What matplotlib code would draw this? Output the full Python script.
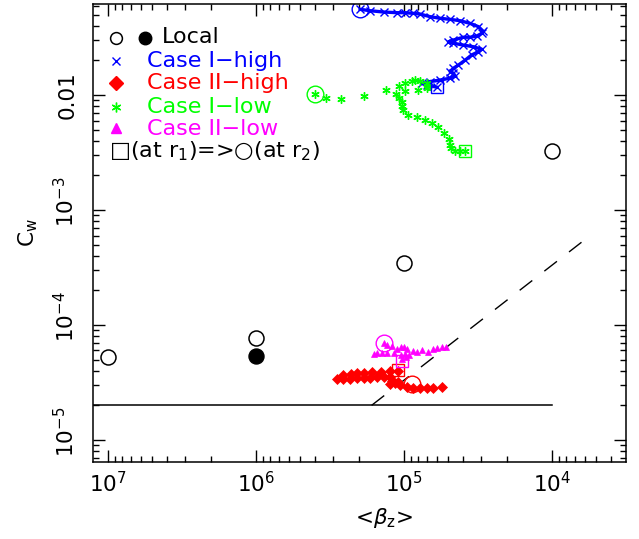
import numpy as np
import matplotlib.pyplot as plt
import matplotlib.transforms as mtransforms
from matplotlib.ticker import FixedLocator, LogLocator, NullFormatter

# ------------------------------- DATA ----------------------------------------
# Local estimates
local_beta = [1e7, 1e6, 1e5, 1e4]
local_cw = [5.27e-5, 7.66e-5, 3.46e-4, 3.28e-3]
local_beta_filled = [1e6]
local_cw_filled = [5.37e-5]

# Case I-high, ordered from r1 to r2
c1h_beta = [5.99e4, 7.0e4, 7.56e4, 6.64e4, 5.69e4, 4.87e4, 4.5e4, 4.62e4, 4.87e4, 4.62e4,
            4.28e4, 3.85e4, 3.48e4, 3.13e4, 2.97e4, 3.39e4, 3.96e4, 4.62e4, 5.0e4, 4.62e4,
            3.96e4, 3.57e4, 3.21e4, 2.97e4, 2.93e4, 3.13e4, 3.57e4, 4.17e4, 4.87e4, 5.69e4,
            6.64e4, 7.76e4, 8.6e4, 9.8e4, 1.11e5, 1.37e5, 1.69e5, 1.97e5]
c1h_cw = [0.0117, 0.0122, 0.0126, 0.0131, 0.0135, 0.0140, 0.0146, 0.0155, 0.0160, 0.0171,
          0.0182, 0.0201, 0.0223, 0.0238, 0.0250, 0.0263, 0.0272, 0.0282, 0.0290, 0.0301,
          0.0318, 0.0318, 0.0326, 0.0344, 0.0362, 0.0393, 0.0420, 0.0443, 0.0455, 0.0465,
          0.0480, 0.0506, 0.0513, 0.0520, 0.0520, 0.0527, 0.0541, 0.0556]

# Case I-low, ordered from r1 to r2
c1l_beta = [3.85e4, 4.17e4, 4.51e4, 4.80e4, 4.87e4, 4.94e4, 5.32e4, 5.84e4, 6.47e4, 7.18e4,
            8.17e4, 9.31e4, 1.02e5, 1.03e5, 1.03e5, 1.07e5, 1.13e5, 1.07e5, 9.8e4, 8.83e4,
            8.39e4, 7.76e4, 7.0e4, 6.82e4, 7.0e4, 7.96e4, 9.8e4, 1.32e5, 1.85e5, 2.65e5,
            3.35e5, 3.97e5]
c1l_cw = [3.28e-3, 3.28e-3, 3.28e-3, 3.44e-3, 3.67e-3, 4.12e-3, 4.65e-3, 5.24e-3, 5.68e-3, 6.06e-3,
          6.40e-3, 6.70e-3, 7.41e-3, 8.02e-3, 8.74e-3, 9.36e-3, 1.03e-2, 1.20e-2, 1.26e-2, 1.32e-2,
          1.35e-2, 1.32e-2, 1.28e-2, 1.20e-2, 1.14e-2, 1.10e-2, 1.09e-2, 1.10e-2, 9.86e-3, 9.23e-3,
          9.36e-3, 1.03e-2]

# Case II-high
c2h_beta = [2.56e5, 2.28e5, 2.08e5, 1.87e5, 1.63e5, 1.43e5, 1.24e5, 1.09e5,
            2.83e5, 2.56e5, 2.31e5, 2.08e5, 1.87e5, 1.69e5, 1.52e5, 1.37e5, 1.24e5, 1.21e5,
            1.24e5, 1.15e5, 1.09e5, 1.06e5, 9.55e4, 8.61e4, 7.76e4, 7.0e4, 6.31e4, 5.53e4]
c2h_cw = [3.67e-5, 3.75e-5, 3.80e-5, 3.85e-5, 3.88e-5, 3.93e-5, 3.98e-5, 3.98e-5,
          3.37e-5, 3.39e-5, 3.41e-5, 3.44e-5, 3.46e-5, 3.48e-5, 3.51e-5, 3.53e-5, 3.51e-5, 3.28e-5,
          3.07e-5, 3.11e-5, 3.21e-5, 3.01e-5, 2.90e-5, 2.85e-5, 2.82e-5, 2.82e-5, 2.85e-5, 2.87e-5]

# Case II-low
c2l_beta = [1.37e5, 1.30e5, 1.21e5, 1.60e5, 1.52e5, 1.41e5, 1.29e5, 1.16e5, 1.11e5, 1.05e5,
            9.95e4, 9.46e4, 8.61e4, 8.09e4, 7.56e4, 6.82e4, 6.31e4, 5.93e4, 5.53e4, 5.20e4,
            1.05e5, 9.8e4, 9.16e4, 1.03e5, 9.64e4]
c2l_cw = [6.94e-5, 6.70e-5, 6.56e-5, 5.60e-5, 5.68e-5, 5.68e-5, 5.74e-5, 5.68e-5, 6.15e-5, 6.40e-5,
          6.40e-5, 6.15e-5, 5.98e-5, 5.86e-5, 6.07e-5, 5.86e-5, 6.15e-5, 6.27e-5, 6.40e-5, 6.47e-5,
          5.48e-5, 5.55e-5, 5.48e-5, 5.04e-5, 5.24e-5]

# End points: r1 (square) and r2 (circle) for each case
r1_beta = {'c1h': 5.99e4, 'c2h': 1.09e5, 'c1l': 3.85e4, 'c2l': 1.03e5}
r1_cw = {'c1h': 0.0117, 'c2h': 4.06e-5, 'c1l': 3.28e-3, 'c2l': 4.86e-5}
r2_beta = {'c1h': 1.97e5, 'c2h': 8.83e4, 'c1l': 3.97e5, 'c2l': 1.37e5}
r2_cw = {'c1h': 0.0556, 'c2h': 3.05e-5, 'c1l': 1.03e-2, 'c2l': 6.97e-5}

# Reference lines
floor_beta = [1.25e7, 1e4]
floor_cw = [2e-5, 2e-5]
dash_beta = [1.65e5, 6.3e3]
dash_cw = [2.0e-5, 5.24e-4]

colors = {'c1h': (0, 0, 1), 'c2h': (1, 0, 0), 'c1l': (0, 1, 0), 'c2l': (1, 0, 1)}

# ------------------------------ PLOTTING -------------------------------------
plt.rcParams['font.family'] = 'DejaVu Sans'
plt.rcParams['mathtext.default'] = 'regular'
fs = 15.5
fs_leg = 16

fig = plt.figure(figsize=(6.39, 5.39), dpi=100)
ax = fig.add_axes([0.1463, 0.1434, 0.8334, 0.8486])

ax.plot(floor_beta, floor_cw, color='k', lw=1.1)
ax.plot(dash_beta, dash_cw, color='k', lw=1.0, dashes=(11.5, 11.0))

ax.plot(local_beta, local_cw, 'o', ms=10.8, mfc='none', mec='k', mew=1.1)
ax.plot(local_beta_filled, local_cw_filled, 'o', ms=10.8, mfc='k', mec='k')

ax.plot(c1h_beta, c1h_cw, '-', color=colors['c1h'], lw=2.4)
ax.plot(c1h_beta, c1h_cw, 'x', color=colors['c1h'], ms=6, mew=1)
ax.plot(c1l_beta, c1l_cw, marker=(6, 2, 0), ls='none', color=colors['c1l'], ms=6, mew=1)
ax.plot(c2h_beta, c2h_cw, 'D', color=colors['c2h'], ms=4.8, mew=0.5)
ax.plot(c2l_beta, c2l_cw, '^', color=colors['c2l'], ms=5, mew=0.5)

for key in colors:
    ax.plot(r1_beta[key], r1_cw[key], 's', ms=9, mfc='none', mec=colors[key], mew=1)
    ax.plot(r2_beta[key], r2_cw[key], 'o', ms=12, mfc='none', mec=colors[key], mew=1)

ax.set_xscale('log')
ax.set_yscale('log')
ax.set_xlim(1.25e7, 3.15e3)
ax.set_ylim(6.47e-6, 0.0615)

ax.xaxis.set_major_locator(FixedLocator([1e7, 1e6, 1e5, 1e4]))
ax.set_xticklabels([r'$\mathdefault{10^{7}}$', r'$\mathdefault{10^{6}}$',
                    r'$\mathdefault{10^{5}}$', r'$\mathdefault{10^{4}}$'], fontsize=fs)
ax.xaxis.set_minor_locator(LogLocator(base=10, subs=np.arange(2, 10), numticks=20))
ax.xaxis.set_minor_formatter(NullFormatter())

ax.yaxis.set_major_locator(FixedLocator([1e-5, 1e-4, 1e-3, 1e-2]))
ax.yaxis.set_minor_locator(LogLocator(base=10, subs=np.arange(2, 10), numticks=20))
ax.yaxis.set_minor_formatter(NullFormatter())
ax.tick_params(axis='y', labelleft=False)

ax.tick_params(which='both', direction='in', top=True, right=True, width=1.0)
ax.tick_params(which='major', length=8.6)
ax.tick_params(which='minor', length=4.3)
ax.tick_params(axis='x', pad=7)
for sp in ax.spines.values():
    sp.set_linewidth(1.1)

# rotated y tick labels, the "10" part sits on the tick
ylab_vals = [1e-5, 1e-4, 1e-3, 1e-2]
ylab_text = [r'$\mathdefault{10^{-5}}$', r'$\mathdefault{10^{-4}}$', r'$\mathdefault{10^{-3}}$', '0.01']
ytrans = ax.get_yaxis_transform()
for v, s in zip(ylab_vals, ylab_text):
    shift = 0.08 if s != '0.01' else 0.0
    tr = ytrans + mtransforms.ScaledTranslation(0, shift, fig.dpi_scale_trans)
    ax.text(-0.029, v, s, transform=tr, rotation=90, ha='right', va='center', fontsize=fs)

ax.set_xlabel(r'<$\mathit{\beta}_z$>', fontsize=fs)
ax.xaxis.set_label_coords(0.545, -0.123)
ax.xaxis.label.set_va('center')
ax.set_ylabel(r'C$_w$', fontsize=fs)
ax.yaxis.set_label_coords(-0.123, 0.5)
ax.yaxis.label.set_va('center')

# legend drawn by hand
tA = ax.transAxes
ax.plot([0.0423], [0.9263], 'o', ms=8.5, mfc='none', mec='k', mew=1.1, transform=tA)
ax.plot([0.0967], [0.9263], 'o', ms=9, mfc='k', mec='k', transform=tA)
ax.text(0.128, 0.9147, 'Local', fontsize=fs_leg, va='baseline', transform=tA)
ax.plot([0.0423], [0.8760], 'x', ms=6, mew=1, color=colors['c1h'], transform=tA)
ax.text(0.0999, 0.8633, 'Case I\u2212high', color=colors['c1h'], fontsize=fs_leg, va='baseline', transform=tA)
ax.plot([0.0423], [0.8273], 'D', ms=7, color=colors['c2h'], transform=tA)
ax.text(0.0999, 0.8142, 'Case II\u2212high', color=colors['c2h'], fontsize=fs_leg, va='baseline', transform=tA)
ax.plot([0.0423], [0.7761], marker=(6, 2, 0), ms=7, mew=1, color=colors['c1l'], transform=tA)
ax.text(0.0999, 0.7630, 'Case I\u2212low', color=colors['c1l'], fontsize=fs_leg, va='baseline', transform=tA)
ax.plot([0.0423], [0.7289], '^', ms=7, color=colors['c2l'], transform=tA)
ax.text(0.0999, 0.7143, 'Case II\u2212low', color=colors['c2l'], fontsize=fs_leg, va='baseline', transform=tA)
ax.text(0.0297, 0.6646, '\u25a1(at r$_1$)=>\u25cb(at r$_2$)', fontsize=fs_leg, va='baseline', transform=tA)

fig.savefig('out.png', dpi=100)
